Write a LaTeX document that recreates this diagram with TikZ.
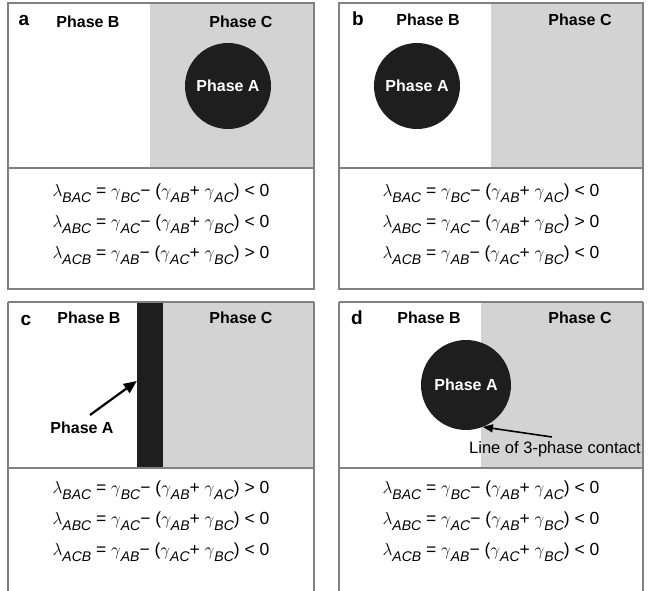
\documentclass[tikz,border=0pt]{standalone}
\usepackage{fontspec}
\setmainfont{Liberation Sans}
\usetikzlibrary{arrows.meta}

\definecolor{framegray}{HTML}{808080}
\definecolor{phasec}{HTML}{D3D3D3}
\definecolor{phasea}{HTML}{1E1E1E}

% italic Greek symbols and lowered italic subscripts
\newcommand\lmb{$\lambda$}
\newcommand\gmm{$\gamma$}
\newcommand\sbs[1]{\raisebox{-0.36em}{\fontsize{14}{14}\selectfont\itshape #1}}

\tikzset{
  panelframe/.style={draw=framegray, line width=1.1pt},
  cregion/.style={fill=phasec},
  aphase/.style={circle, fill=phasea, inner sep=0pt, minimum size=#1, text=white,
    font=\bfseries\fontsize{16}{16}\selectfont},
  phaselbl/.style={font=\bfseries\fontsize{16}{16}\selectfont, inner sep=0pt},
  panellbl/.style={font=\bfseries\fontsize{19}{19}\selectfont, inner sep=0pt},
  eqn/.style={font=\fontsize{17.5}{18}\selectfont, inner sep=0pt},
  notelbl/.style={font=\fontsize{16.5}{17}\selectfont, inner sep=0pt},
  fatarrow/.style={line width=2.2pt, -{Triangle[length=13pt,width=11pt]}},
  thinarrow/.style={line width=1.6pt, -{Triangle[length=10pt,width=8pt]}},
}

\begin{document}
\begin{tikzpicture}[x=1pt, y=-1pt]
\fill[white] (0,0) rectangle (651,591);
\useasboundingbox (0,0) rectangle (651,591);
\clip (0,0) rectangle (651,591);

% ---------------- panel a ----------------
\fill[cregion] (150,3) rectangle (314,168);
\node[aphase=86pt] (aA) at (228,86) {Phase A};
\draw[panelframe] (8,3) rectangle (314,289);
\draw[panelframe] (8,168) -- (314,168);
\node[panellbl] (aL) at (24,20) {a};
\node[phaselbl] (aB) at (88,22) {Phase B};
\node[phaselbl] (aC) at (241,22) {Phase C};
\node[eqn] (ae1) at (161,193) {\lmb\sbs{BAC} = \gmm\sbs{BC}− (\gmm\sbs{AB}+ \gmm\sbs{AC}) < 0};
\node[eqn] (ae2) at (161,224) {\lmb\sbs{ABC} = \gmm\sbs{AC}− (\gmm\sbs{AB}+ \gmm\sbs{BC}) < 0};
\node[eqn] (ae3) at (161,255) {\lmb\sbs{ACB} = \gmm\sbs{AB}− (\gmm\sbs{AC}+ \gmm\sbs{BC}) > 0};

% ---------------- panel b ----------------
\fill[cregion] (491,3) rectangle (643,168);
\node[aphase=86pt] (bA) at (417,86) {Phase A};
\draw[panelframe] (339,3) rectangle (643,289);
\draw[panelframe] (339,168) -- (643,168);
\node[panellbl] (bL) at (358,19) {b};
\node[phaselbl] (bB) at (428,20) {Phase B};
\node[phaselbl] (bC) at (580,20) {Phase C};
\node[eqn] (be1) at (491,193) {\lmb\sbs{BAC} = \gmm\sbs{BC}− (\gmm\sbs{AB}+ \gmm\sbs{AC}) < 0};
\node[eqn] (be2) at (491,224) {\lmb\sbs{ABC} = \gmm\sbs{AC}− (\gmm\sbs{AB}+ \gmm\sbs{BC}) > 0};
\node[eqn] (be3) at (491,255) {\lmb\sbs{ACB} = \gmm\sbs{AB}− (\gmm\sbs{AC}+ \gmm\sbs{BC}) < 0};

% ---------------- panel c ----------------
\fill[cregion] (163,302) rectangle (314,468);
\node[fill=phasea, inner sep=0pt, minimum width=26pt, minimum height=166pt] (bar) at (150,385) {};
\draw[panelframe] (8,302) -- (8,600) (314,302) -- (314,600) (8,302) -- (314,302);
\draw[panelframe] (8,468) -- (314,468);
\node[panellbl] (cL) at (26,320) {c};
\node[phaselbl] (cB) at (89,318) {Phase B};
\node[phaselbl] (cC) at (241,318) {Phase C};
\node[phaselbl] (cA) at (82,428) {Phase A};
\coordinate (cTail) at (90,415);
\draw[fatarrow] (cTail) -- (bar.west |- 0,381);
\node[eqn] (ce1) at (161,490) {\lmb\sbs{BAC} = \gmm\sbs{BC}− (\gmm\sbs{AB}+ \gmm\sbs{AC}) > 0};
\node[eqn] (ce2) at (161,521) {\lmb\sbs{ABC} = \gmm\sbs{AC}− (\gmm\sbs{AB}+ \gmm\sbs{BC}) < 0};
\node[eqn] (ce3) at (161,552) {\lmb\sbs{ACB} = \gmm\sbs{AB}− (\gmm\sbs{AC}+ \gmm\sbs{BC}) < 0};

% ---------------- panel d ----------------
\fill[cregion] (481,302) rectangle (643,468);
\node[aphase=90pt] (dA) at (466,385) {\raisebox{-5pt}{Phase A}};
\draw[panelframe] (339,302) -- (339,600) (643,302) -- (643,600) (339,302) -- (643,302);
\draw[panelframe] (339,468) -- (643,468);
\node[panellbl] (dL) at (357,318) {d};
\node[phaselbl] (dB) at (429,318) {Phase B};
\node[phaselbl] (dC) at (580,318) {Phase C};
\node[notelbl] (dNote) at (555,449) {Line of 3-phase contact};
\coordinate (dTail) at (552,437);
\draw[thinarrow] (dTail) -- (dA.-68);
\node[eqn] (de1) at (491,490) {\lmb\sbs{BAC} = \gmm\sbs{BC}− (\gmm\sbs{AB}+ \gmm\sbs{AC}) < 0};
\node[eqn] (de2) at (491,521) {\lmb\sbs{ABC} = \gmm\sbs{AC}− (\gmm\sbs{AB}+ \gmm\sbs{BC}) < 0};
\node[eqn] (de3) at (491,552) {\lmb\sbs{ACB} = \gmm\sbs{AB}− (\gmm\sbs{AC}+ \gmm\sbs{BC}) < 0};
\end{tikzpicture}
\end{document}
